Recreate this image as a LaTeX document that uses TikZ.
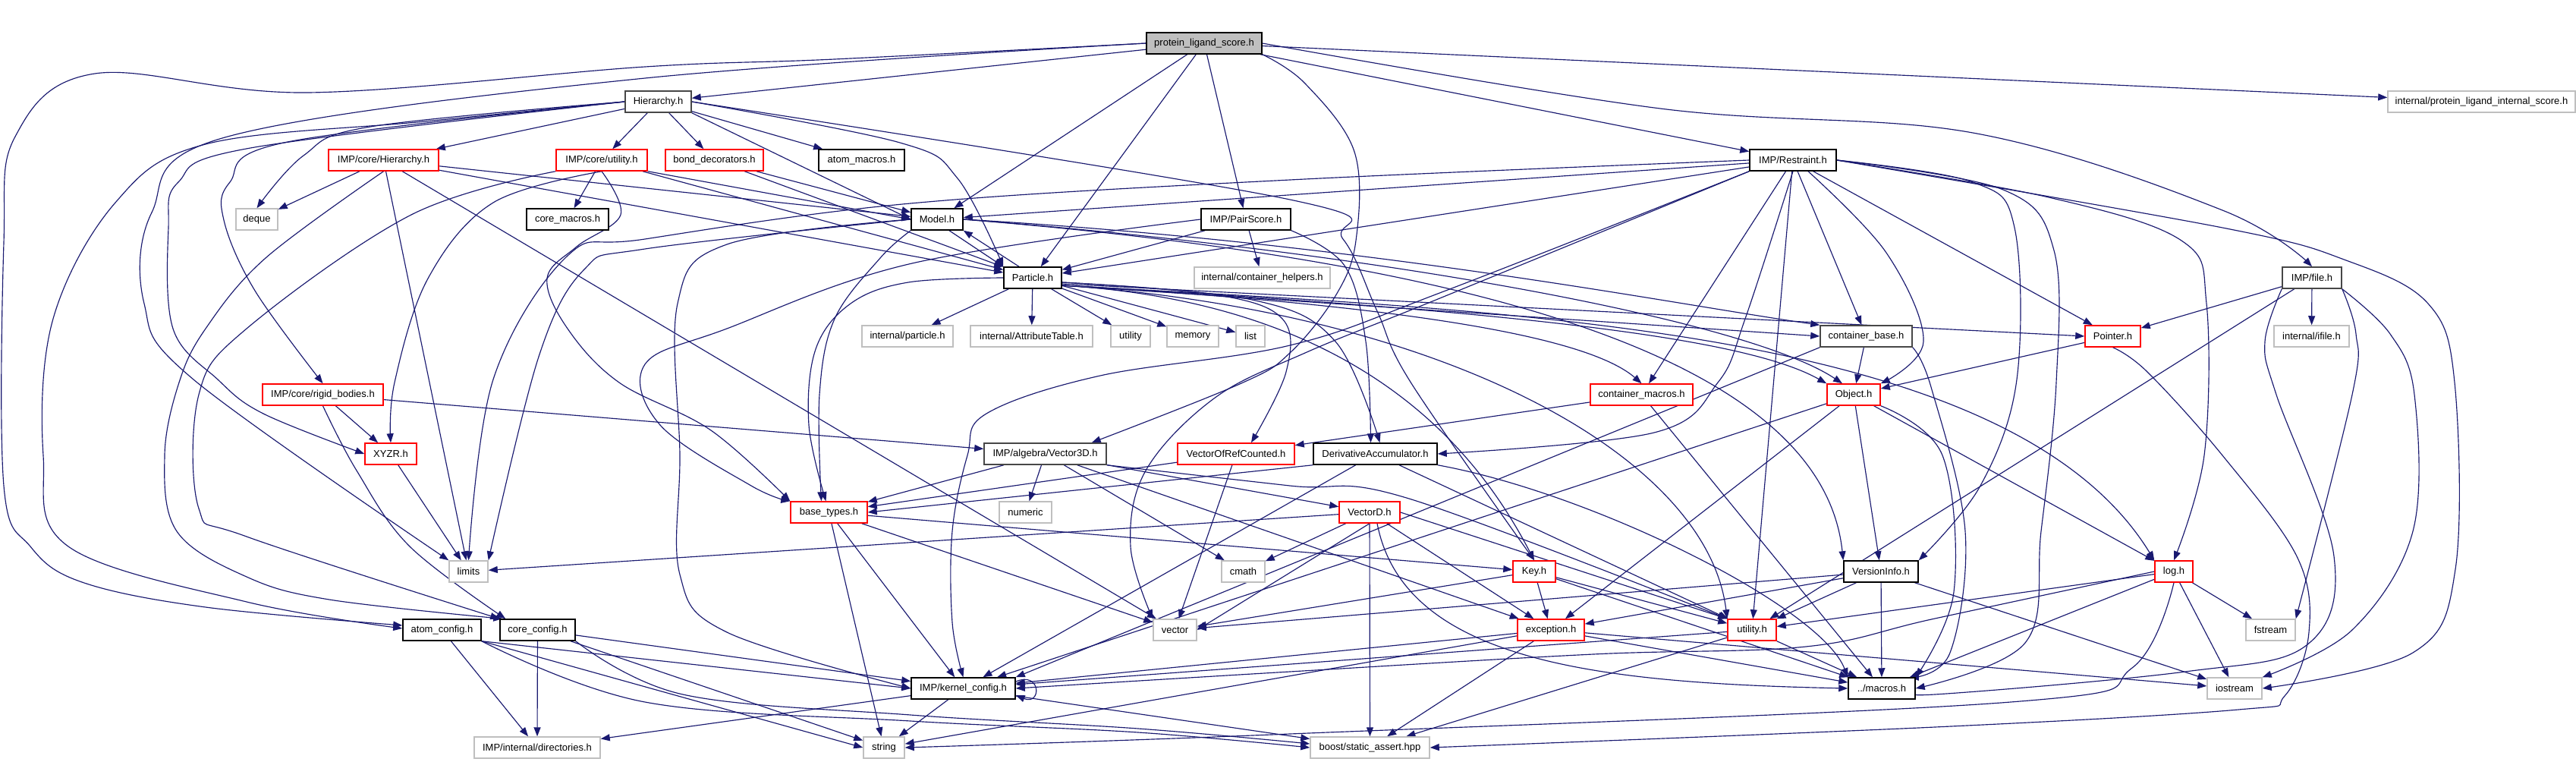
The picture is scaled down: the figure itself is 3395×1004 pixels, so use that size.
\documentclass[tikz,border=0pt]{standalone}
\usepackage{fontspec}
\setmainfont{Liberation Sans}
\usetikzlibrary{arrows.meta,backgrounds,calc}
\definecolor{edgec}{HTML}{191970}
\definecolor{greyb}{HTML}{BFBFBF}
\newcommand\mkn[6]{\node[#5,minimum width=#4pt] (#1) at (#2,#3) {#6};}
\begin{document}
\begin{tikzpicture}[x=1pt,y=-1pt,
 box/.style={draw=black,line width=1.5pt,fill=white,minimum height=28pt,inner sep=0pt,font=\fontsize{13}{15}\selectfont},
 rbox/.style={box,draw=red},
 gbox/.style={box,draw=greyb},
 dbox/.style={box,draw=black!72},
 rootbox/.style={box,fill=greyb},
 edg/.style={draw=edgec,line width=1.15pt,-{Triangle[length=12pt,width=9pt]}},
 sm/.style={smooth,tension=0.6}]
\useasboundingbox (0,0) rectangle (3395,1004);
% nodes
\mkn{P}{1587}{57}{152}{rootbox}{protein\_ligand\_score.h}
\mkn{H}{867.5}{134}{87}{dbox}{Hierarchy.h}
\mkn{ILS}{3270.5}{134}{247}{gbox}{internal/protein\_ligand\_internal\_score.h}
\mkn{CoreH}{505.5}{211}{145}{rbox}{IMP/core/Hierarchy.h}
\mkn{CoreU}{793}{211}{120}{rbox}{IMP/core/utility.h}
\mkn{Bond}{941.5}{211}{129}{rbox}{bond\_decorators.h}
\mkn{AtomMacros}{1135.5}{211}{113}{box}{atom\_macros.h}
\mkn{Restraint}{2363}{211}{114}{box}{IMP/Restraint.h}
\mkn{Deque}{338.5}{289}{55}{gbox}{deque}
\mkn{CoreMacros}{748}{289}{108}{box}{core\_macros.h}
\mkn{Model}{1235}{289}{68}{box}{Model.h}
\mkn{PairScore}{1642}{289}{118}{box}{IMP/PairScore.h}
\mkn{Particle}{1361}{366}{76}{box}{Particle.h}
\mkn{ContainerHelpers}{1663.5}{366}{179}{gbox}{internal/container\_helpers.h}
\mkn{File}{3047}{366}{78}{dbox}{IMP/file.h}
\mkn{IParticle}{1196}{443}{120}{gbox}{internal/particle.h}
\mkn{AttrTable}{1359.5}{443}{161}{gbox}{internal/AttributeTable.h}
\mkn{Utility}{1490}{443}{52}{gbox}{utility}
\mkn{Memory}{1572}{443}{68}{gbox}{memory}
\mkn{List}{1648}{443}{38}{gbox}{list}
\mkn{ContainerBase}{2459.5}{443}{121}{dbox}{container\_base.h}
\mkn{Pointer}{2784.5}{443}{73}{rbox}{Pointer.h}
\mkn{IFile}{3046.5}{443}{99}{gbox}{internal/ifile.h}
\mkn{RigidBodies}{425.5}{520}{159}{rbox}{IMP/core/rigid\_bodies.h}
\mkn{ContainerMacros}{2163.5}{520}{135}{rbox}{container\_macros.h}
\mkn{Object}{2443}{520}{70}{rbox}{Object.h}
\mkn{XYZR}{515}{598}{68}{rbox}{XYZR.h}
\mkn{Vector3D}{1377.5}{598}{161}{dbox}{IMP/algebra/Vector3D.h}
\mkn{VORC}{1629}{598}{154}{rbox}{VectorOfRefCounted.h}
\mkn{DA}{1812.5}{598}{163}{box}{DerivativeAccumulator.h}
\mkn{BaseTypes}{1092.5}{675}{101}{rbox}{base\_types.h}
\mkn{Numeric}{1351.5}{675}{69}{gbox}{numeric}
\mkn{VectorD}{1805}{675}{80}{rbox}{VectorD.h}
\mkn{Limits}{617.5}{753}{51}{gbox}{limits}
\mkn{Cmath}{1638.5}{753}{57}{gbox}{cmath}
\mkn{Key}{2022}{753}{56}{rbox}{Key.h}
\mkn{VersionInfo}{2479}{753}{98}{box}{VersionInfo.h}
\mkn{Log}{2865}{753}{50}{rbox}{log.h}
\mkn{AC}{582.5}{830}{103}{box}{atom\_config.h}
\mkn{CoreConfig}{708.5}{830}{99}{box}{core\_config.h}
\mkn{Vector}{1548.5}{830}{57}{gbox}{vector}
\mkn{Exception}{2044}{830}{88}{rbox}{exception.h}
\mkn{UtilityH}{2309}{830}{64}{rbox}{utility.h}
\mkn{Fstream}{2992.5}{830}{65}{gbox}{fstream}
\mkn{KC}{1269.5}{907}{137}{box}{IMP/kernel\_config.h}
\mkn{Macros}{2480}{907}{88}{box}{../macros.h}
\mkn{Iostream}{2945}{907}{72}{gbox}{iostream}
\mkn{Directories}{708}{985}{166}{gbox}{IMP/internal/directories.h}
\mkn{String}{1165}{985}{54}{gbox}{string}
\mkn{StaticAssert}{1805.5}{985}{157}{gbox}{boost/static\_assert.hpp}
\begin{scope}[on background layer]
\fill[white] (0,0) rectangle (3395,1004);
% straight edges
\foreach \a/\b in {P/H, P/ILS, P/Model, P/Particle, P/PairScore, P/Restraint,
 H/CoreH, H/CoreU, H/Bond, H/AtomMacros,
 CoreH/Deque, CoreH/Model, CoreH/Particle, CoreH/Limits, CoreH/Vector,
 CoreU/CoreMacros, CoreU/Particle,
 Bond/Model, Bond/Particle,
 RigidBodies/XYZR, RigidBodies/Vector3D, XYZR/Limits,
 Particle/IParticle, Particle/AttrTable, Particle/Utility, Particle/Memory, Particle/List,
 PairScore/ContainerHelpers, PairScore/Particle,
 Restraint/Model, Restraint/Particle, Restraint/ContainerBase, Restraint/Pointer, Restraint/ContainerMacros, Restraint/UtilityH,
 File/Pointer, File/IFile, File/UtilityH,
 Object/VersionInfo, Object/Exception, Object/Log, Object/KC,
 VersionInfo/Exception, VersionInfo/UtilityH, VersionInfo/Macros, VersionInfo/Iostream, VersionInfo/Vector,
 Log/UtilityH, Log/Macros, Log/Fstream, Log/Iostream,
 Key/Exception, Key/UtilityH, Key/Macros, Key/Vector,
 VectorD/Limits, VectorD/Cmath, VectorD/Exception, VectorD/StaticAssert,
 Vector3D/VectorD, Vector3D/BaseTypes, Vector3D/Numeric, Vector3D/Cmath, Vector3D/Exception,
 VORC/BaseTypes, VORC/Vector,
 DA/KC, DA/UtilityH,
 ContainerBase/Object, ContainerMacros/VORC, ContainerMacros/Macros, Pointer/Object,
 Exception/KC, Exception/String, Exception/StaticAssert, Exception/Macros, Exception/Iostream,
 UtilityH/KC, UtilityH/Macros, UtilityH/StaticAssert,
 KC/String, KC/StaticAssert, KC/Directories,
 AC/Directories, CoreConfig/KC, CoreConfig/Directories, CoreConfig/String,
 BaseTypes/KC, BaseTypes/Key, BaseTypes/Vector, BaseTypes/String}
 \draw[edg] (\a) -- (\b);
% adjusted straight edges
\draw[edg] (H.south east) -- (Model.west);
\draw[edg] (CoreU.south east) -- (Model.west);
\draw[edg] ([xshift=16pt]Model.south) -- (Particle.north west);
\draw[edg] ([xshift=-18pt]Particle.north) -- (Model.south east);
\draw[edg] ([yshift=-8pt]Particle.east) -- (Pointer.west);
\draw[edg] ([yshift=-10pt]Particle.east) -- (ContainerBase.west);
\draw[edg] (VectorD.east) -- (UtilityH.north west);
\draw[edg] (VectorD.south) -- (Vector.east);
\draw[edg] (DA.south west) -- (BaseTypes.east);
\draw[edg] (ContainerBase.south west) -- (KC.north east);
\draw[edg] (AC.south east) -- (KC.west);
\draw[edg] (AC.south east) -- (String.west);
% curved edges
\draw[edg] plot[sm] coordinates {(P.west) (1100,78) (850,88) (406,122) (125,97) (20,180) (5,320) (5,640) (40,720) (108,767) (271,800) ($(AC.west)+(0,-6)$)};
\draw[edg] plot[sm] coordinates {(H.west) (560,160) (271,190) (152,267) (70,420) (57,600) (90,720) (325,793) ($(AC.west)+(0,-2)$)};
\draw[edg] plot[sm] coordinates {(P.west) (850,103) (300,180) (200,280) (190,400) (255,500) (Limits.north west)};
\draw[edg] plot[sm] coordinates {(H.west) (488,167) (400,205) (Deque.north)};
\draw[edg] plot[sm] coordinates {(H.west) (379,187) (303,240) (295,290) (336,383) (RigidBodies.north)};
\draw[edg] plot[sm] coordinates {(H.west) (330,195) (235,240) (222,300) (228,433) (287,500) (347,545) (XYZR.west)};
\draw[edg] plot[sm] coordinates {(H.east) (1186,188) (1262,235) (Particle.north west)};
\draw[edg] plot[sm] coordinates {(H.east) (1700,263) (1770,315) (1815,410) (1860,505) (Key.north)};
\draw[edg] plot[sm] coordinates {(P.east) (2188,143) (2600,175) (2929,277) (File.north)};
\draw[edg] plot[sm] coordinates {(P.south east) (1720,110) (1785,200) (1787,317) (1760,390) (1700,465) (1636,505) ([xshift=-20pt]Vector3D.north east)};
\draw[edg] plot[sm] coordinates {(Restraint.south west) (1900,385) (1700,455) (1450,495) (1300,545) (1275,600) (1255,700) (1255,820) (KC.north)};
\draw[edg] plot[sm] coordinates {(Restraint.south west) (1900,392) (1720,465) (1600,525) (1510,620) (1490,720) (Vector.north west)};
\draw[edg] plot[sm] coordinates {(Restraint.south) (2300,420) (2264,504) (2180,570) (DA.east)};
\draw[edg] plot[sm] coordinates {(Restraint.east) (2600,240) (2655,300) (2658,500) (2610,640) (VersionInfo.north east)};
\draw[edg] plot[sm] coordinates {(Restraint.east) (2640,250) (2707,330) (2710,504) (2690,700) (2669,847) (Macros.east)};
\draw[edg] plot[sm] coordinates {(Restraint.east) (2700,260) (2875,317) (2908,400) (2905,600) (Log.north)};
\draw[edg] plot[sm] coordinates {(Restraint.east) (2929,300) (3092,343) (3200,400) (3235,504) (3236,750) (3180,860) (Iostream.east)};
\draw[edg] plot[sm] coordinates {(Restraint.west) (1700,237) (1200,268) (850,315) (748,337) (650,500) (Limits.north)};
\draw[edg] plot[sm] coordinates {([xshift=20pt]Restraint.south) (2486,333) (2535,450) (Object.north east)};
\draw[edg] plot[sm] coordinates {(Model.west) (850,328) (770,355) (710,470) (Limits.north east)};
\draw[edg] plot[sm] coordinates {(Model.west) (958,322) (893,400) (896,600) (896,757) (958,833) (KC.west)};
\draw[edg] plot[sm] coordinates {(Model.south west) (1160,340) (1100,420) (1080,520) ([xshift=-10pt]BaseTypes.north)};
\draw[edg] plot[sm] coordinates {(Particle.west) (1197,372) (1121,400) (1075,460) (1066,560) ([xshift=-4pt]BaseTypes.north)};
\draw[edg] plot[sm] coordinates {(PairScore.west) (1202,347) (958,433) (850,480) (870,560) (990,640) (BaseTypes.north west)};
\draw[edg] plot[sm] coordinates {(PairScore.south east) (1772,350) (1800,450) ([xshift=-6pt]DA.north)};
\draw[edg] plot[sm] coordinates {(CoreU.south) (650,267) (564,367) (520,504) (XYZR.north)};
\draw[edg] plot[sm] coordinates {(CoreU.south) (818,283) (760,325) (721,367) (748,433) (816,504) (937,567) (BaseTypes.north west)};
\draw[edg] plot[sm] coordinates {(CoreU.south west) (542,283) (325,433) (262,520) (262,670) (325,707) (CoreConfig.north west)};
\draw[edg] plot[sm] coordinates {(CoreH.south) (350,340) (271,433) (236,504) (217,600) (233,700) (325,760) (434,790) ([xshift=4pt]CoreConfig.north west)};
\draw[edg] plot[sm] coordinates {(RigidBodies.south) (470,620) (540,720) ([xshift=8pt]CoreConfig.north west)};
\draw[edg] plot[sm] coordinates {([yshift=-6pt]Particle.east) (1650,395) (1760,450) ([xshift=6pt]DA.north)};
\draw[edg] plot[sm] coordinates {([yshift=-6pt]Particle.east) (1600,388) (1690,420) (1695,490) ([xshift=20pt]VORC.north)};
\draw[edg] ([yshift=-10pt]Particle.east) .. controls (1800,400) and (1950,600) .. (Key.north);
\draw[edg] ([yshift=-10pt]Particle.east) .. controls (1900,410) and (2250,600) .. (UtilityH.north west);
\draw[edg] ([yshift=-10pt]Particle.east) .. controls (2000,410) and (2650,430) .. (Log.north west);
\draw[edg] ([yshift=-10pt]Particle.east) .. controls (1900,405) and (2100,450) .. (ContainerMacros.north);
\draw[edg] ([yshift=-10pt]Particle.east) .. controls (2000,410) and (2300,445) .. (Object.north west);
\draw[edg] (Model.east) .. controls (1800,330) and (2300,420) .. ([xshift=-15pt]Object.north);
\draw[edg] (Model.east) .. controls (1800,320) and (2200,400) .. (ContainerBase.north west);
\draw[edg] (Model.east) .. controls (1900,340) and (2400,460) .. (VersionInfo.north west);
\draw[edg] plot[sm] coordinates {(Object.south east) (2560,600) (2575,780) (Macros.north east)};
\draw[edg] plot[sm] coordinates {(ContainerBase.south east) (2545,510) (2590,700) (2570,860) ([xshift=-8pt]Macros.north east)};
\draw[edg] plot[sm] coordinates {(Pointer.south) (2830,490) (2929,600) (3027,733) (3043,833) (3011,917) (2950,935) (2550,958) (StaticAssert.east)};
\draw[edg] plot[sm] coordinates {(File.south west) (2985,450) (3000,520) (3076,733) (3040,850) (2880,885) (2550,915) (Macros.east)};
\draw[edg] plot[sm] coordinates {(File.south east) (3105,440) (3100,520) (Fstream.north east)};
\draw[edg] plot[sm] coordinates {(File.south east) (3150,440) (3182,520) (3180,700) (3100,830) (Iostream.north east)};
\draw[edg] plot[sm] coordinates {(Log.south) (2810,880) (2650,925) (1700,967) (String.east)};
\draw[edg] plot[sm] coordinates {(Log.west) (2550,815) (2380,852) (2100,862) (1700,885) (KC.east)};
\draw[edg] plot[sm] coordinates {(Vector3D.south east) (1700,640) (1857,657) (UtilityH.north west)};
\draw[edg] ([xshift=10pt]VectorD.south) .. controls (1850,870) and (2100,900) .. (Macros.west);
\draw[edg] (DA.south east) .. controls (2100,650) and (2400,800) .. (Macros.north west);
\draw[edg] plot[sm] coordinates {(AC.south east) (850,925) (1200,950) (1500,965) (StaticAssert.west)};
\draw[edg] plot[sm] coordinates {(CoreConfig.south east) (900,915) (1200,942) (1500,960) ([yshift=5pt]StaticAssert.west)};
\draw[edg] ($(KC.east)+(0,-9)$) .. controls +(34,-14) and +(34,14) .. ($(KC.east)+(0,9)$);
\end{scope}
\end{tikzpicture}
\end{document}
